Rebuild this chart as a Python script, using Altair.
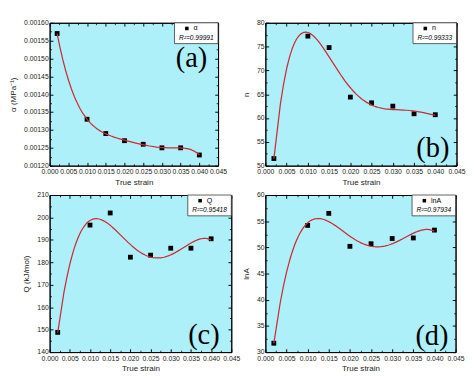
import altair as alt
import pandas as pd

strain = [0.002, 0.010, 0.015, 0.020, 0.025, 0.030, 0.035, 0.040]
alpha_vals = [0.00157, 0.00133, 0.00129, 0.00127, 0.00126, 0.00125, 0.00125, 0.00123]
n_vals = [51.5, 77.2, 74.8, 64.4, 63.2, 62.5, 60.9, 60.7]
q_vals = [148.8, 196.6, 202.0, 182.3, 183.2, 186.3, 186.3, 190.5]
lna_vals = [31.7, 54.2, 56.5, 50.2, 50.7, 51.7, 51.8, 53.3]

x_ticks = [0.000, 0.005, 0.010, 0.015, 0.020, 0.025, 0.030, 0.035, 0.040, 0.045]
alpha_ticks = [0.00120, 0.00125, 0.00130, 0.00135, 0.00140, 0.00145, 0.00150, 0.00155, 0.00160]
n_ticks = [50, 55, 60, 65, 70, 75, 80]
q_ticks = [140, 150, 160, 170, 180, 190, 200, 210]
lna_ticks = [30, 35, 40, 45, 50, 55, 60]

BG = "#aef0fa"
FIT = "#cc2a36"
FONT = "Liberation Sans"


def mids(t):
    return [(a + b) / 2 for a, b in zip(t[:-1], t[1:])]


def panel(vals, name, r2, ytitle, yticks, yfmt, label, ldx, ly, w, h, order, tx):
    df = pd.DataFrame({"x": strain, "y": vals})
    base = alt.Chart(df)
    xscale = alt.Scale(domain=[x_ticks[0], x_ticks[-1]], nice=False, zero=False)
    yscale = alt.Scale(domain=[yticks[0], yticks[-1]], nice=False, zero=False)
    major = dict(tickSize=alt.ExprRef(expr="-3.5"), grid=False, labelOverlap=False,
                 labelFlush=False, ticks=True, tickWidth=1, minExtent=0)
    minor = dict(tickSize=alt.ExprRef(expr="-2"), grid=False, labels=False,
                 domain=False, title=None, ticks=True, tickWidth=0.8,
                 minExtent=0, maxExtent=0)
    xaxis = alt.Axis(values=x_ticks, format=".3f", title="True strain", orient="bottom",
                     labelPadding=6, **major)
    yaxis = alt.Axis(values=yticks, format=yfmt, title=ytitle, orient="left",
                     labelPadding=5, titleX=tx, titleY=h / 2, titleAngle=270,
                     titleAlign="center", titleBaseline="bottom", **major)
    xaxis2 = alt.Axis(values=x_ticks, orient="top", labels=False, title=None,
                      maxExtent=0, **major)
    yaxis2 = alt.Axis(values=yticks, orient="right", labels=False, title=None,
                      maxExtent=0, **major)
    xm1 = alt.Axis(values=mids(x_ticks), orient="bottom", **minor)
    ym1 = alt.Axis(values=mids(yticks), orient="left", **minor)
    xm2 = alt.Axis(values=mids(x_ticks), orient="top", **minor)
    ym2 = alt.Axis(values=mids(yticks), orient="right", **minor)
    fit = (base.transform_calculate(xs="datum.x*100")
           .transform_regression("xs", "y", method="poly", order=order)
           .transform_calculate(x="datum.xs/100")
           .mark_line(color=FIT, strokeWidth=1.3)
           .encode(x=alt.X("x:Q", scale=xscale, axis=None),
                   y=alt.Y("y:Q", scale=yscale, axis=None)))
    pts = base.mark_square(size=26, color="black", opacity=1).encode(
        x=alt.X("x:Q", scale=xscale, axis=xaxis),
        y=alt.Y("y:Q", scale=yscale, axis=yaxis))
    mirror = base.mark_point(opacity=0).encode(
        x=alt.X("x:Q", scale=xscale, axis=xaxis2),
        y=alt.Y("y:Q", scale=yscale, axis=yaxis2))
    minor_a = base.mark_point(opacity=0).encode(
        x=alt.X("x:Q", scale=xscale, axis=xm1),
        y=alt.Y("y:Q", scale=yscale, axis=ym1))
    minor_b = base.mark_point(opacity=0).encode(
        x=alt.X("x:Q", scale=xscale, axis=xm2),
        y=alt.Y("y:Q", scale=yscale, axis=ym2))
    one = alt.Chart(pd.DataFrame({"k": [0]}))
    box = one.mark_rect(fill="white", stroke="#333", strokeWidth=0.8).encode(
        x=alt.value(w - 46), x2=alt.value(w), y=alt.value(0), y2=alt.value(22))
    sq = one.mark_square(size=14, color="black", opacity=1).encode(
        x=alt.value(w - 33), y=alt.value(6))
    nm = one.mark_text(text=name, font=FONT, fontSize=7.5, align="left",
                       baseline="middle", color="black").encode(
        x=alt.value(w - 26), y=alt.value(6))
    rr = one.mark_text(text="R²=" + r2, font=FONT, fontSize=7, fontStyle="italic",
                       align="center", baseline="middle", color="black").encode(
        x=alt.value(w - 23), y=alt.value(16))
    lab = one.mark_text(text=label, font="Liberation Serif", fontSize=30,
                        align="center", baseline="middle", color="black").encode(
        x=alt.value(w - ldx), y=alt.value(ly))
    return (alt.layer(pts, fit, mirror, minor_a, minor_b, box, sq, nm, rr, lab)
            .resolve_axis(x="independent", y="independent")
            .properties(width=w, height=h))


H1, H2 = 151, 166
pa = panel(alpha_vals, "α", "0.99991", "α (MPa⁻¹)", alpha_ticks, ".5f", "(a)",
           28, 38, 178, H1, 6, -34)
pb = panel(n_vals, "n", "0.99333", "n", n_ticks, "d", "(b)",
           25, H1 - 18, 202, H1, 5, -16)
pc = panel(q_vals, "Q", "0.95418", "Q (kJ/mol)", q_ticks, "d", "(c)",
           29, H2 - 18, 192, H2, 4, -20)
pd_ = panel(lna_vals, "lnA", "0.97934", "lnA", lna_ticks, "d", "(d)",
            25, H2 - 17, 201, H2, 4, -16)

chart = alt.concat(
    pa, pb, pc, pd_, columns=2, align="none", bounds="full",
    spacing=alt.RowColnumber(row=4, column=0),
).properties(padding=0, background="white").configure_view(
    fill=BG, stroke="black", strokeWidth=1
).configure_axis(
    labelFont=FONT, titleFont=FONT, labelFontSize=7.2, titleFontSize=8.5,
    titleFontWeight="normal", labelColor="#222", titleColor="#222",
    domainColor="black", tickColor="black", titlePadding=3, minExtent=0
)

chart.save("out.html", embed_options={"renderer": "svg", "actions": False})
